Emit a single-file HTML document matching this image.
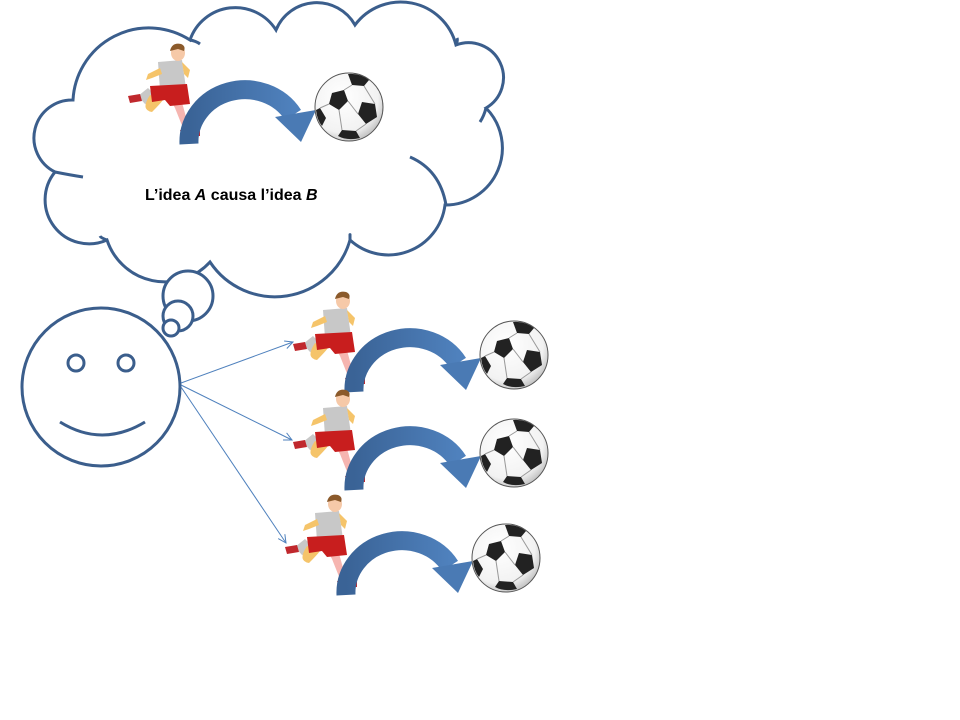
<!DOCTYPE html>
<html><head><meta charset="utf-8"><style>
html,body{margin:0;padding:0;background:#fff;}
svg{display:block;}
</style></head><body>
<svg width="960" height="720" viewBox="0 0 960 720" xmlns="http://www.w3.org/2000/svg">
<defs>
<radialGradient id="bg" cx="0.4" cy="0.35" r="0.7">
<stop offset="0" stop-color="#fff"/><stop offset="0.75" stop-color="#f2f2f2"/><stop offset="1" stop-color="#bbb"/>
</radialGradient>
<linearGradient id="ag" x1="0" y1="0" x2="1" y2="0">
<stop offset="0" stop-color="#3a6396"/><stop offset="1" stop-color="#4f81bd"/>
</linearGradient>
<marker id="mk" markerWidth="10" markerHeight="10" refX="9" refY="5" orient="auto" markerUnits="userSpaceOnUse">
<path d="M1,1 L9,5 L1,9" fill="none" stroke="#4f81bd" stroke-width="1"/>
</marker>
<g id="scene">
<!-- player -->
<path d="M148,88 L138,96 L145,104 L160,100 Z" fill="#c8c8c8"/>
<path d="M150,95 Q140,110 152,112 Q160,104 163,100 Z" fill="#f5c46a"/>
<path d="M128,96 L140,94 L142,101 L130,103 Z" fill="#c0282d"/>
<path d="M166,92 L175,108 L183,128 L189,128 L183,106 L178,92 Z" fill="#f6b5b0"/>
<path d="M180,130 L200,131 L200,136 L182,136 Z" fill="#c0282d"/>
<path d="M158,62 L182,60 L186,88 L160,90 Z" fill="#c8c8c8"/>
<path d="M160,68 L148,74 L146,80 L152,78 L162,74 Z" fill="#f5c46a"/>
<path d="M182,62 L190,70 L188,78 L184,74 Z" fill="#f5c46a"/>
<path d="M150,86 L187,84 L190,104 L170,106 L165,100 L152,102 Z" fill="#c81e1e"/>
<ellipse cx="178" cy="53" rx="7" ry="8" fill="#f6c9a8"/>
<path d="M170,51 Q172,42 181,44 Q186,46 184,51 L178,49 Z" fill="#8b5a2b"/>
<!-- arrow -->
<path d="M189,144 A 56 52 0 0 1 293,115" fill="none" stroke="url(#ag)" stroke-width="19"/>
<path d="M275,117 L316,110 L301,142 Z" fill="#4a7ab4"/>
<!-- ball -->
<circle cx="349" cy="107" r="34" fill="url(#bg)" stroke="#555" stroke-width="1"/>
<path d="M332,93 L344,90 L348,101 L339,110 L329,104 Z" fill="#222"/>
<path d="M362,102 L375,104 L377,117 L366,124 L358,114 Z" fill="#222"/>
<path d="M348,74 Q360,73 369,80 L364,86 L352,85 Z" fill="#222"/>
<path d="M338,136 Q347,141 360,138 L356,131 L342,130 Z" fill="#222"/>
<path d="M316,110 Q317,120 322,126 L326,118 L320,108 Z" fill="#222"/>
<path d="M344,90 L352,85 M348,101 L358,114 M339,110 L342,130 M366,124 L356,131 M329,104 L320,108 M364,86 L375,104" stroke="#999" stroke-width="1"/>
</g>
</defs>

<!-- cloud -->
<path d="M73,100 A76 76 0 0 1 190,40 A48 48 0 0 1 276,30 A44 44 0 0 1 355,25 A57 57 0 0 1 456,45 A35 35 0 0 1 486,108 A57 57 0 0 1 445,205 A57 57 0 0 1 350,240 A78 78 0 0 1 210,262 A61 61 0 0 1 107,240 A44 44 0 0 1 55,172 A38 38 0 0 1 73,100 Z" fill="#fff" stroke="#3b5e8c" stroke-width="3"/>
<path d="M190,40 Q196,41 200,44 M456,45 Q458,40 457,38 M486,108 Q484,116 480,122 M410,157 Q440,170 446,205 M350,240 Q350,232 350,236 M107,240 Q101,238 100,236 M55,172 Q70,175 83,177" fill="none" stroke="#3b5e8c" stroke-width="3"/>

<use href="#scene"/>
<text x="145" y="200" font-family="'Liberation Sans', sans-serif" font-weight="bold" font-size="16" fill="#000">L’idea <tspan font-style="italic">A</tspan> causa l’idea <tspan font-style="italic">B</tspan></text>

<!-- thought bubbles -->
<circle cx="188" cy="296" r="25" fill="#fff" stroke="#3b5e8c" stroke-width="3"/>
<circle cx="178" cy="316" r="15" fill="#fff" stroke="#3b5e8c" stroke-width="3"/>
<circle cx="171" cy="328" r="8" fill="#fff" stroke="#3b5e8c" stroke-width="3"/>

<!-- face -->
<circle cx="101" cy="387" r="79" fill="#fff" stroke="#3b5e8c" stroke-width="3"/>
<circle cx="76" cy="363" r="8" fill="#fff" stroke="#3b5e8c" stroke-width="3"/>
<circle cx="126" cy="363" r="8" fill="#fff" stroke="#3b5e8c" stroke-width="3"/>
<path d="M60,422 Q102,448 145,422" fill="none" stroke="#3b5e8c" stroke-width="3"/>

<!-- connectors -->
<line x1="181" y1="383" x2="293" y2="342" stroke="#4f81bd" stroke-width="1" marker-end="url(#mk)"/>
<line x1="181" y1="385" x2="292" y2="440" stroke="#4f81bd" stroke-width="1" marker-end="url(#mk)"/>
<line x1="181" y1="387" x2="286" y2="543" stroke="#4f81bd" stroke-width="1" marker-end="url(#mk)"/>

<use href="#scene" transform="translate(165,248)"/>
<use href="#scene" transform="translate(165,346)"/>
<use href="#scene" transform="translate(157,451)"/>
</svg>
</body></html>
